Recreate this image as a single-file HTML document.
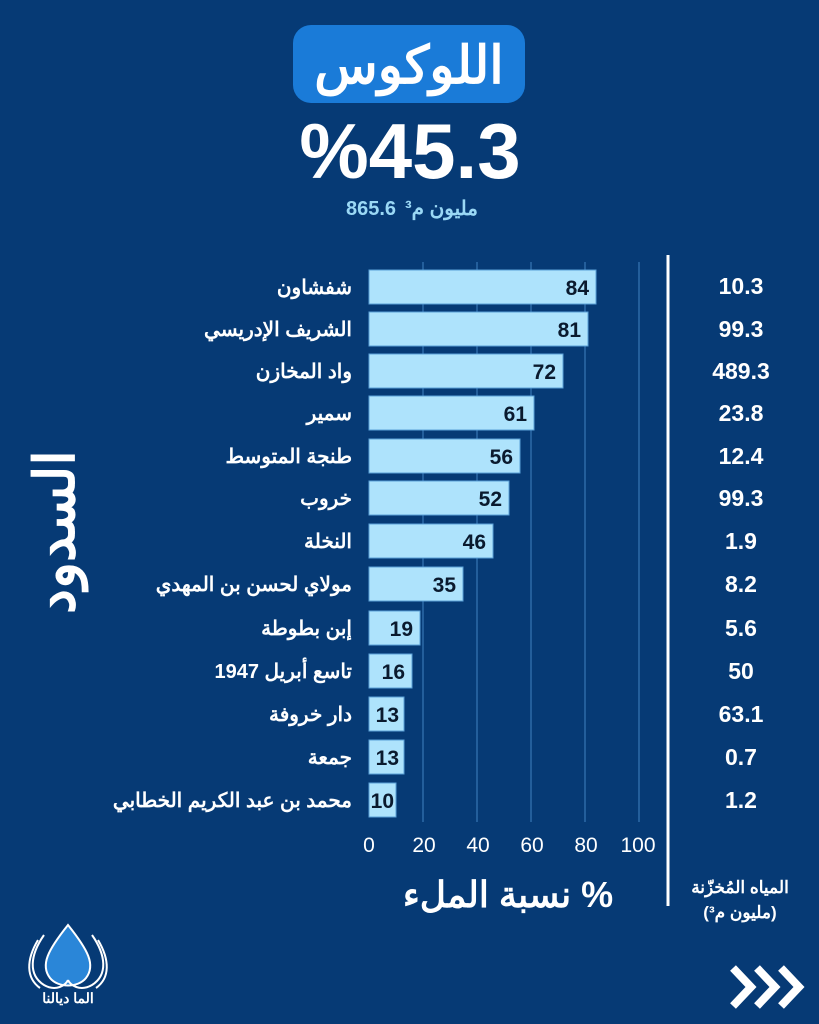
<!DOCTYPE html>
<html><head><meta charset="utf-8"><style>
html,body{margin:0;padding:0;background:#063a75;}
svg{display:block;font-family:"Liberation Sans","Noto Sans CJK SC",sans-serif;}
</style></head><body>
<svg width="819" height="1024" viewBox="0 0 819 1024" xmlns="http://www.w3.org/2000/svg">
<rect width="819" height="1024" fill="#063a75"/>
<rect x="293" y="25" width="232" height="78" rx="18" fill="#1a7bd8"/>
<text x="409" y="83" text-anchor="middle" font-size="52" font-weight="bold" fill="#fff">اللوكوس</text>
<text x="410" y="178" text-anchor="middle" font-size="78" font-weight="bold" fill="#fff" direction="ltr">%45.3</text>
<text x="346" y="215" direction="ltr" text-anchor="start" font-size="20" font-weight="bold" fill="#9ad8f5">865.6</text>
<text x="478" y="215" direction="ltr" text-anchor="end" font-size="20" font-weight="bold" fill="#9ad8f5">مليون م³</text>
<g stroke="#2d6aa8" stroke-width="1.5">
<line x1="423" y1="262" x2="423" y2="822"/><line x1="477" y1="262" x2="477" y2="822"/>
<line x1="531" y1="262" x2="531" y2="822"/><line x1="585" y1="262" x2="585" y2="822"/>
<line x1="639" y1="262" x2="639" y2="822"/>
</g>
<g fill="#aee3fc" stroke="#5aa0d8" stroke-width="1">
<rect x="369" y="270" width="227" height="34"/>
<rect x="369" y="312" width="219" height="34"/>
<rect x="369" y="354" width="194" height="34"/>
<rect x="369" y="396" width="165" height="34"/>
<rect x="369" y="439" width="151" height="34"/>
<rect x="369" y="481" width="140" height="34"/>
<rect x="369" y="524" width="124" height="34"/>
<rect x="369" y="567" width="94" height="34"/>
<rect x="369" y="611" width="51" height="34"/>
<rect x="369" y="654" width="43" height="34"/>
<rect x="369" y="697" width="35" height="34"/>
<rect x="369" y="740" width="35" height="34"/>
<rect x="369" y="783" width="27" height="34"/>
</g>
<g font-size="21" font-weight="bold" fill="#0a1a2e" text-anchor="end">
<text x="589" y="295">84</text><text x="581" y="337">81</text><text x="556" y="379">72</text>
<text x="527" y="421">61</text><text x="513" y="464">56</text><text x="502" y="506">52</text>
<text x="486" y="549">46</text><text x="456" y="592">35</text><text x="413" y="636">19</text>
<text x="405" y="679">16</text><text x="399" y="722">13</text><text x="399" y="765">13</text>
<text x="394" y="808">10</text>
</g>
<g font-size="20" font-weight="bold" fill="#fff" text-anchor="end">
<text x="352" y="294">شفشاون</text><text x="352" y="336">الشريف الإدريسي</text>
<text x="352" y="378">واد المخازن</text><text x="352" y="420">سمير</text>
<text x="352" y="463">طنجة المتوسط</text><text x="352" y="505">خروب</text>
<text x="352" y="548">النخلة</text><text x="352" y="591">مولاي لحسن بن المهدي</text>
<text x="352" y="635">إبن بطوطة</text><text x="352" y="678">تاسع أبريل 1947</text>
<text x="352" y="721">دار خروفة</text><text x="352" y="764">جمعة</text>
<text x="352" y="807">محمد بن عبد الكريم الخطابي</text>
</g>
<g font-size="23" font-weight="bold" fill="#fff" text-anchor="middle">
<text x="741" y="294">10.3</text><text x="741" y="337">99.3</text><text x="741" y="379">489.3</text>
<text x="741" y="421">23.8</text><text x="741" y="464">12.4</text><text x="741" y="506">99.3</text>
<text x="741" y="549">1.9</text><text x="741" y="592">8.2</text><text x="741" y="636">5.6</text>
<text x="741" y="679">50</text><text x="741" y="722">63.1</text><text x="741" y="765">0.7</text>
<text x="741" y="808">1.2</text>
</g>
<line x1="668" y1="255" x2="668" y2="906" stroke="#fff" stroke-width="3"/>
<g font-size="21" fill="#fff" text-anchor="middle">
<text x="369" y="852">0</text><text x="424" y="852">20</text><text x="478" y="852">40</text>
<text x="532" y="852">60</text><text x="586" y="852">80</text><text x="638" y="852">100</text>
</g>
<text x="508" y="907" text-anchor="middle" font-size="36" font-weight="bold" fill="#fff">نسبة الملء %</text>
<text x="740" y="893" text-anchor="middle" font-size="17" font-weight="bold" fill="#fff">المياه المُخزّنة</text>
<text x="740" y="918" text-anchor="middle" font-size="17" font-weight="bold" fill="#fff">(مليون م³)</text>
<text transform="translate(74,532) rotate(-90)" text-anchor="middle" font-size="56" font-weight="bold" fill="#fff">السدود</text>
<g fill="none" stroke="#fff" stroke-width="2">
<path d="M68 925 C48 950 40 965 50 978 C58 988 78 988 86 978 C96 965 88 950 68 925Z" fill="#2a86d8"/>
<path d="M44 935 C30 955 28 975 44 985 C56 992 66 985 68 980"/>
<path d="M92 935 C106 955 108 975 92 985 C80 992 70 985 68 980"/>
<path d="M38 940 C26 960 26 978 40 988"/><path d="M98 940 C110 960 110 978 96 988"/>
</g>
<text x="68" y="1003" text-anchor="middle" font-size="14" font-weight="bold" fill="#fff">الما ديالنا</text>
<g fill="none" stroke="#fff" stroke-width="8" stroke-linejoin="miter">
<polyline points="733,968 751,987 733,1006"/><polyline points="757,968 775,987 757,1006"/><polyline points="781,968 799,987 781,1006"/>
</g>
</svg>
</body></html>
